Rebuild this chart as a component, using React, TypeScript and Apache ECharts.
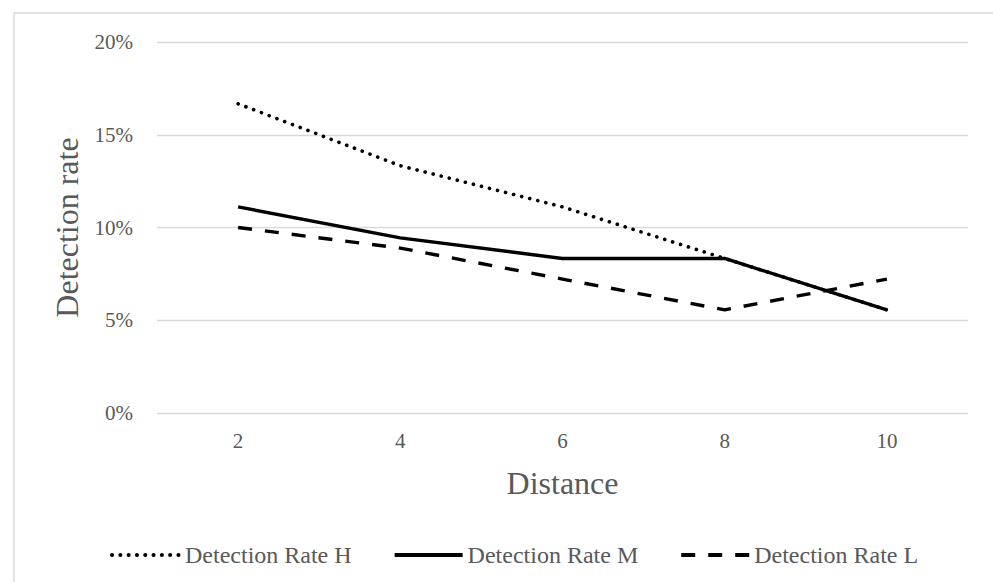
import React, { useEffect, useRef } from "react";
import * as echarts from "echarts";

const categories = ["2", "4", "6", "8", "10"];
const rateH = [16.67, 13.33, 11.11, 8.33, 5.56];
const rateM = [11.11, 9.44, 8.33, 8.33, 5.56];
const rateL = [10.0, 8.89, 7.22, 5.56, 7.22];
const seriesNames = ["Detection Rate H", "Detection Rate M", "Detection Rate L"];
const yTicks = { min: 0, max: 20, interval: 5 };

const FONT = "Liberation Serif";
const GRAY = "#595959";

export default function App() {
  const ref = useRef<HTMLDivElement>(null);
  useEffect(() => {
    if (!ref.current) return;
    const chart = echarts.init(ref.current, undefined, { renderer: "svg" });
    chart.setOption({
      animation: false,
      backgroundColor: "#ffffff",
      textStyle: { fontFamily: FONT },
      graphic: [
        {
          type: "rect",
          silent: true,
          z: -10,
          shape: { x: 14, y: 13, width: 1000, height: 600 },
          style: { fill: "none", stroke: "#d9d9d9", lineWidth: 1.5 },
        },
      ],
      grid: { left: 157, right: 25, top: 42, bottom: 169 },
      legend: {
        left: 105,
        top: 538,
        itemWidth: 68,
        itemHeight: 14,
        itemGap: 41,
        itemStyle: { opacity: 0 },
        lineStyle: { width: 4 },
        textStyle: { fontFamily: FONT, fontSize: 24, color: GRAY },
        data: seriesNames,
      },
      xAxis: {
        type: "category",
        data: categories,
        boundaryGap: true,
        name: "Distance",
        nameLocation: "middle",
        nameGap: 54,
        nameTextStyle: { fontFamily: FONT, fontSize: 32, color: GRAY },
        axisLine: { show: false },
        axisTick: { show: false },
        axisLabel: { fontFamily: FONT, fontSize: 21, color: GRAY, margin: 17 },
        splitLine: { show: false },
      },
      yAxis: {
        type: "value",
        min: yTicks.min,
        max: yTicks.max,
        interval: yTicks.interval,
        name: "Detection rate",
        nameLocation: "middle",
        nameGap: 74,
        nameRotate: 90,
        nameTextStyle: { fontFamily: FONT, fontSize: 32, color: GRAY },
        axisLine: { show: false },
        axisTick: { show: false },
        axisLabel: {
          fontFamily: FONT,
          fontSize: 21,
          color: GRAY,
          margin: 24,
          formatter: (v: number) => `${v}%`,
        },
        splitLine: { show: true, lineStyle: { color: "#d9d9d9", width: 1.3 } },
      },
      series: [
        {
          name: seriesNames[0],
          type: "line",
          data: rateH,
          symbol: "none",
          color: "#000000",
          lineStyle: { color: "#000000", width: 3.6, type: [0.1, 8.2], cap: "round" },
          z: 2,
        },
        {
          name: seriesNames[1],
          type: "line",
          data: rateM,
          symbol: "none",
          color: "#000000",
          lineStyle: { color: "#000000", width: 3.4, type: "solid" },
          z: 3,
        },
        {
          name: seriesNames[2],
          type: "line",
          data: rateL,
          symbol: "none",
          color: "#000000",
          lineStyle: { color: "#000000", width: 3.4, type: [14, 13] },
          z: 2,
        },
      ],
    });
    return () => chart.dispose();
  }, []);
  return (
    <div
      ref={ref}
      style={{ position: "fixed", left: 0, top: 0, width: 993, height: 582 }}
    />
  );
}
